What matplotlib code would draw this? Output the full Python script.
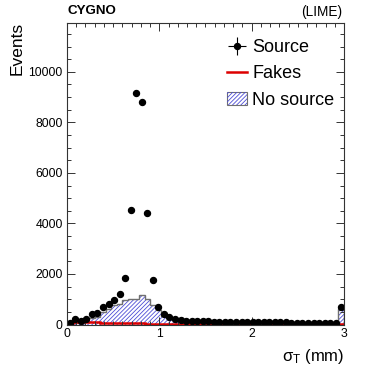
import numpy as np
import matplotlib
matplotlib.use("Agg")
import matplotlib.pyplot as plt
from matplotlib.ticker import MultipleLocator
from matplotlib.patches import Patch
from matplotlib.lines import Line2D

plt.rcParams['font.family'] = ['Liberation Sans', 'DejaVu Sans']
plt.rcParams['mathtext.fontset'] = 'custom'
plt.rcParams['mathtext.rm'] = 'Liberation Sans'
plt.rcParams['mathtext.it'] = 'Liberation Sans'
plt.rcParams['hatch.linewidth'] = 0.6

# ---------------- data ----------------
x_min, x_max, n_bins = 0.0, 3.0, 50
source = [60, 220, 140, 230, 420, 470, 710, 800, 980, 1190,
          1850, 4550, 9150, 8800, 4420, 1750, 710, 410, 290, 220,
          180, 140, 130, 130, 120, 120, 110, 110, 100, 100,
          90, 90, 90, 90, 90, 80, 80, 80, 80, 80,
          70, 70, 70, 70, 70, 70, 70, 70, 70, 690]
no_source = [30, 40, 60, 250, 270, 300, 480, 600, 760, 800,
             950, 1000, 1000, 1150, 1000, 780, 560, 330, 240, 180,
             140, 110, 100, 90, 80, 80, 75, 75, 70, 70,
             65, 65, 60, 60, 60, 60, 55, 55, 55, 55,
             50, 50, 50, 50, 50, 50, 50, 50, 50, 620]
fakes = [60, 90, 110, 100, 90, 80, 75, 70, 65, 60,
         55, 50, 45, 40, 35, 30, 28, 25, 22, 20,
         20, 18, 18, 16, 16, 15, 15, 14, 14, 13,
         13, 12, 12, 12, 11, 11, 11, 10, 10, 10,
         10, 10, 10, 10, 10, 10, 10, 10, 10, 20]
legend_labels = ["Source", "Fakes", "No source"]

edges = np.linspace(x_min, x_max, n_bins + 1)
centers = 0.5 * (edges[:-1] + edges[1:])
source = np.array(source, dtype=float)

# ---------------- figure ----------------
fig = plt.figure(figsize=(3.74, 3.74), dpi=100)
W = H = 374.0
l, r, t, b = 67, 344, 22.5, 324.5
ax = fig.add_axes([l / W, 1 - b / H, (r - l) / W, (b - t) / H])

hatch_col = '#4d4dd6'
hatch = '////////'
ax.stairs(no_source, edges, fill=True, facecolor='none',
          edgecolor=hatch_col, hatch=hatch, linewidth=0)
ax.stairs(no_source, edges, color='#707070', linewidth=1.0, baseline=0)
ax.stairs(fakes, edges, color='#dd0000', linewidth=1.8, baseline=None)
h_src = ax.errorbar(centers, source, yerr=np.sqrt(source),
                    xerr=0.5 * (edges[1] - edges[0]), fmt='o', color='black',
                    markersize=4.3, elinewidth=0.8, capsize=0)

p_leg = Patch(facecolor='white', edgecolor='#707070', linewidth=0.8)
p_leg2 = Patch(facecolor='none', edgecolor=hatch_col, hatch=hatch, linewidth=0)
l_fakes = Line2D([], [], color='#dd0000', linewidth=1.8)

ax.set_xlim(x_min, x_max)
ax.set_ylim(0, 11950)

ax.xaxis.set_major_locator(MultipleLocator(1))
ax.xaxis.set_minor_locator(MultipleLocator(0.1))
ax.yaxis.set_major_locator(MultipleLocator(2000))
ax.yaxis.set_minor_locator(MultipleLocator(500))
ax.tick_params(which='both', direction='in', top=True, right=True,
               labelsize=8.8, width=0.7, color='#333333')
ax.tick_params(which='major', length=5.5)
ax.tick_params(which='minor', length=3)
ax.tick_params(axis='y', pad=3)
ax.tick_params(axis='x', pad=2.5)
for s in ax.spines.values():
    s.set_linewidth(0.8)
    s.set_color('#333333')

ax.legend([h_src, l_fakes, (p_leg, p_leg2)], legend_labels,
          loc='upper left', bbox_to_anchor=(0.578, 0.945),
          frameon=False, fontsize=13, handlelength=1.1,
          handletextpad=0.3, labelspacing=0.52, borderpad=0,
          borderaxespad=0)

fig.text(68 / W, 1 - 11 / H, "CYGNO", fontsize=9.6, fontweight='bold',
         ha='left', va='center')
fig.text(342 / W, 1 - 12 / H, "(LIME)", fontsize=9.8, ha='right', va='center')
fig.text(17 / W, 1 - 22 / H, "Events", fontsize=12.5, rotation=90,
         ha='center', va='top')
fig.text(344 / W, 1 - 356 / H, r"σ$_{\mathrm{T}}$ (mm)", fontsize=12,
         ha='right', va='center')

fig.savefig("out.png", dpi=100)
